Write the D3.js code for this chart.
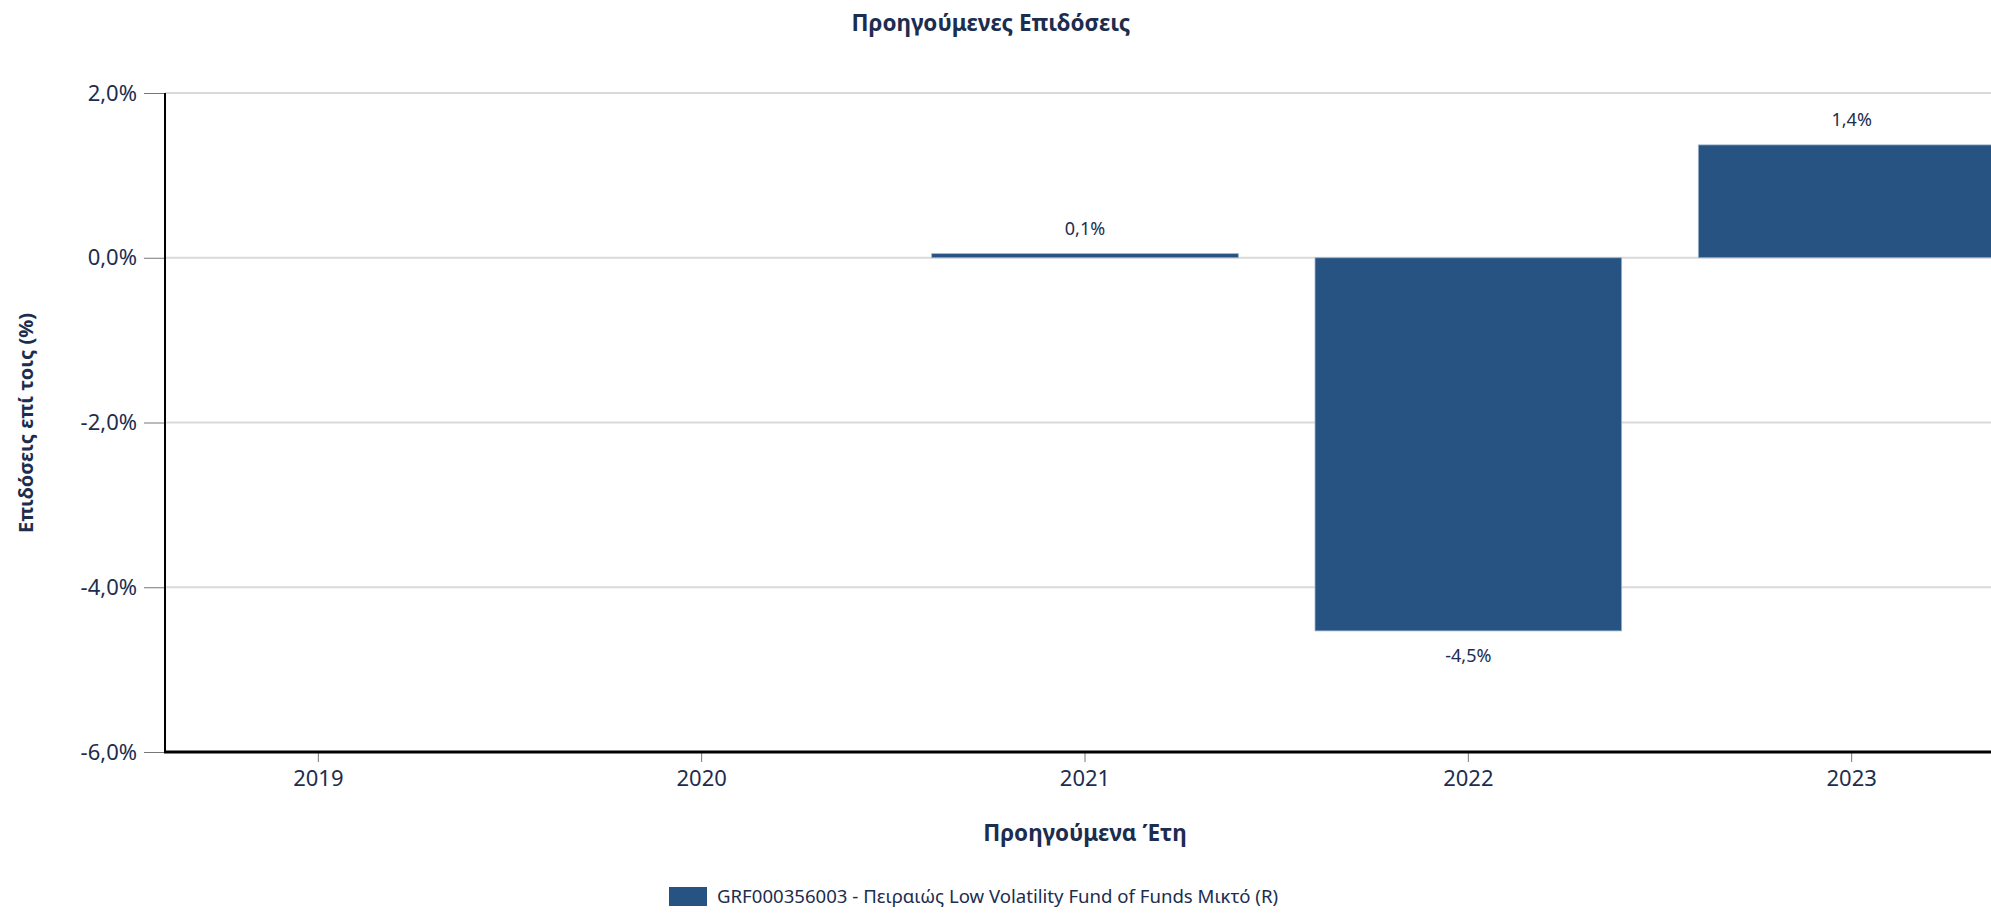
<!DOCTYPE html>
<html>
<head>
<meta charset="utf-8">
<script src="https://cdn.jsdelivr.net/npm/d3@7"></script>
<style>
  body { margin: 0; background: #fff; }
  svg { display: block; font-family: "Noto Sans", sans-serif; }
</style>
</head>
<body>
<div id="chart"></div>
<script>
  var years = ["2019", "2020", "2021", "2022", "2023"];
  var returns = [null, null, 0.05, -4.53, 1.37];
  var yTicks = [-6, -4, -2, 0, 2];
  var seriesName = "GRF000356003 - Πειραιώς Low Volatility Fund of Funds Μικτό (R)";

  var width = 1991;
  var height = 915;
  var textColor = "#1c2d4f";
  var barColor = "#265382";

  var svg = d3.select("#chart").append("svg")
              .attr("width", width)
              .attr("height", height);

  // plot runs past the right edge, like the original
  var x = d3.scaleBand().domain(years).range([165, 2005]).paddingInner(0.2).paddingOuter(0);
  var y = d3.scaleLinear().domain([-6, 2]).range([752, 93]);

  function pct(v) { return v.toFixed(1).replace(".", ",") + "%"; }

  // grid
  svg.append("g").selectAll("line")
     .data(yTicks.filter(function(d){ return d > -6; }))
     .enter().append("line")
     .attr("x1", 165).attr("x2", width)
     .attr("y1", function(d){ return y(d); })
     .attr("y2", function(d){ return y(d); })
     .style("stroke", "#dadada")
     .style("stroke-width", 2);

  // y axis
  var yAxis = svg.append("g")
     .attr("transform", "translate(165,0)")
     .call(d3.axisLeft(y).tickValues(yTicks).tickSize(21).tickPadding(7).tickFormat(pct));
  yAxis.select(".domain").remove();
  yAxis.selectAll(".tick line").style("stroke", "#777").style("stroke-width", 1);
  yAxis.selectAll(".tick text")
       .style("font-family", "Noto Sans").style("font-size", "22px").style("fill", textColor);

  // x axis
  var xAxis = svg.append("g")
     .attr("transform", "translate(0,752)")
     .call(d3.axisBottom(x).tickSize(10).tickSizeOuter(0).tickPadding(8));
  xAxis.select(".domain").remove();
  xAxis.selectAll(".tick line").style("stroke", "#777").style("stroke-width", 1);
  xAxis.selectAll(".tick text")
       .style("font-family", "Noto Sans").style("font-size", "22px").style("fill", textColor);

  // bars
  var data = years.map(function(d, i){ return {year: d, value: returns[i]}; })
                  .filter(function(d){ return d.value !== null; });

  svg.append("g").selectAll("rect")
     .data(data)
     .enter().append("rect")
     .attr("x", function(d){ return x(d.year); })
     .attr("width", x.bandwidth())
     .attr("y", function(d){ return y(Math.max(0, d.value)); })
     .attr("height", function(d){ return Math.abs(y(d.value) - y(0)); })
     .attr("fill", barColor)
     .style("stroke", "#9fb4cc")
     .style("stroke-width", 0.8);

  svg.append("g").selectAll("text")
     .data(data)
     .enter().append("text")
     .attr("x", function(d){ return x(d.year) + x.bandwidth() / 2; })
     .attr("y", function(d){ return d.value >= 0 ? y(d.value) - 19 : y(d.value) + 31; })
     .attr("text-anchor", "middle")
     .style("font-size", "18px")
     .style("fill", textColor)
     .text(function(d){ return pct(d.value); });

  // axis lines on top
  svg.append("line")
     .attr("x1", 165).attr("x2", 165).attr("y1", 93).attr("y2", 753)
     .style("stroke", "#000").style("stroke-width", 2);
  svg.append("line")
     .attr("x1", 164).attr("x2", width).attr("y1", 752).attr("y2", 752)
     .style("stroke", "#000").style("stroke-width", 3);

  // titles
  svg.append("text")
     .attr("x", 991).attr("y", 31)
     .attr("text-anchor", "middle")
     .style("font-size", "22.5px").style("font-weight", "bold").style("fill", textColor)
     .text("Προηγούμενες Επιδόσεις");

  svg.append("text")
     .attr("x", 1085).attr("y", 841)
     .attr("text-anchor", "middle")
     .style("font-size", "22.5px").style("font-weight", "bold").style("fill", textColor)
     .text("Προηγούμενα Έτη");

  svg.append("text")
     .attr("transform", "translate(33,423) rotate(-90)")
     .attr("text-anchor", "middle")
     .style("font-size", "20px").style("font-weight", "bold").style("fill", textColor)
     .text("Επιδόσεις επί τοις (%)");

  // legend
  var legend = svg.append("g").attr("transform", "translate(669,887)");
  legend.append("rect")
        .attr("width", 38).attr("height", 19)
        .attr("fill", barColor);
  legend.append("text")
        .attr("x", 48).attr("y", 16)
        .style("font-size", "18.6px").style("fill", textColor)
        .text(seriesName);
</script>
</body>
</html>
